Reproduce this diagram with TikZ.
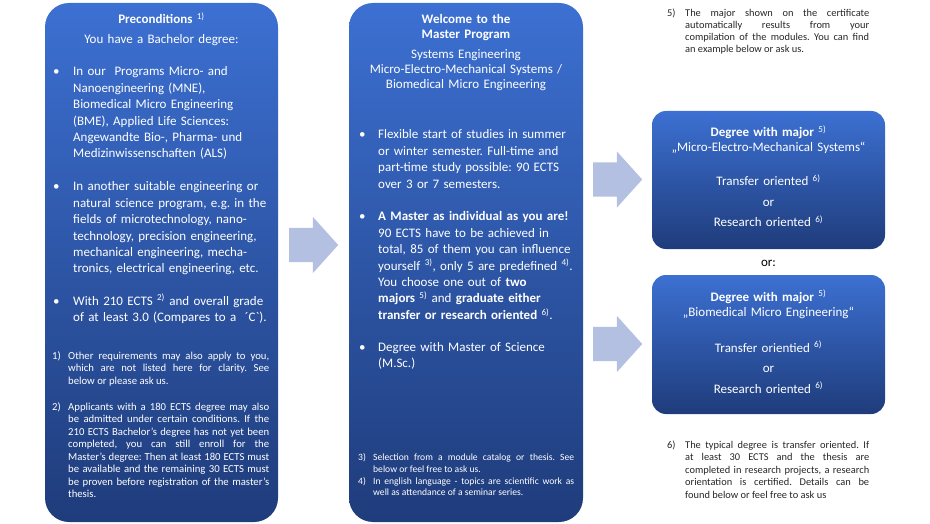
\documentclass[tikz,border=0pt]{standalone}
\usepackage{fontspec}
\setmainfont{Carlito}
\usetikzlibrary{shapes.arrows}

\definecolor{boxtop}{HTML}{3C70D2}
\definecolor{boxbottom}{HTML}{1F3C7B}
\definecolor{arrowfill}{HTML}{B3C0E2}
\definecolor{notegray}{HTML}{262626}

\newcommand{\supnote}[1]{\textsuperscript{#1)}}
\hbadness=10000
\frenchspacing

\tikzset{
  panel/.style={rectangle, rounded corners=#1, top color=boxtop, bottom color=boxbottom,
    draw=none, inner sep=0pt},
  panel/.default=24pt,
  bigarrow/.style={single arrow, anchor=tail, fill=arrowfill, draw=none, inner xsep=0pt,
    inner ysep=17pt, minimum height=49pt, single arrow head extend=11pt,
    single arrow tip angle=96},
  headtext/.style={anchor=base, text=white, inner sep=0pt, align=center, text width=226pt,
    font=\fontsize{13}{15}\selectfont},
  bullet/.style={anchor=base west, text=white, inner sep=0pt, font=\fontsize{13}{16.4}\selectfont},
  bodytext/.style={anchor=base west, text=white, inner sep=0pt, align=left, text width=#1,
    font=\fontsize{13}{16.4}\selectfont},
  fnnum/.style={anchor=base west, inner sep=0pt},
  fntext/.style={anchor=base west, inner sep=0pt, align=justify, text width=#1}
}

\begin{document}
\begin{tikzpicture}[x=1pt,y=-1pt]
\useasboundingbox (0,0) rectangle (930,524);

% Panels
\node[panel, minimum width=233pt, minimum height=519pt] (pre) at (161.5,262.5) {};
\node[panel, minimum width=234pt, minimum height=519pt] (master) at (466,262.5) {};
\node[panel=14pt, minimum width=233pt, minimum height=138pt] (mems) at (768.5,180) {};
\node[panel=14pt, minimum width=233pt, minimum height=139pt] (bme) at (768.5,344.5) {};

% Block arrows (placed by their tails)
\node[bigarrow] (arr1) at (289,245) {};
\node[bigarrow] (arr2) at (593,179.5) {};
\node[bigarrow] (arr3) at (593,344) {};

% ---- Preconditions ----
\node[headtext] (preh) at (161.5,24) {\textbf{Preconditions} \supnote{1}};
\node[headtext] (presub) at (161.5,44) {You have a Bachelor degree:};

\node[bullet] (pb1) at (53,76) {•};
\node[bodytext=200pt] (pt1) at (73,76) {In our~ Programs Micro- and\\
  Nanoengineering (MNE),\\ Biomedical Micro Engineering\\
  (BME), Applied Life Sciences:\\ Angewandte Bio-, Pharma- und\\
  Medizinwissenschaften (ALS)};

\node[bullet] (pb2) at (53,191) {•};
\node[bodytext=200pt] (pt2) at (73,191) {In another suitable engineering or\\
  natural science program, e.g. in the\\ fields of microtechnology, nano-\\
  technology, precision engineering,\\ mechanical engineering, mecha-\\
  tronics, electrical engineering, etc.};

\node[bullet] (pb3) at (53,305) {•};
\node[bodytext=200pt] (pt3) at (73,305) {With 210 ECTS \supnote{2} and overall grade\\
  of at least 3.0 (Compares to a~ ´C{\addfontfeatures{Ligatures=TeXOff}`}).};

% footnotes 1) and 2)
\begin{scope}[text=white, font=\fontsize{10.7}{12.5}\selectfont]
\node[fnnum] (pn1) at (52,359) {1)};
\node[fntext=201pt] (pf1) at (68,359) {Other requirements may also apply to you,\linebreak
  which are not listed here for clarity. See\linebreak below or please ask us.};
\node[fnnum] (pn2) at (52,410) {2)};
\node[fntext=201pt] (pf2) at (68,410) {Applicants with a 180 ECTS degree may also\linebreak
  be admitted under certain conditions. If the\linebreak
  210 ECTS Bachelor's degree has not yet been\linebreak
  completed, you can still enroll for the\linebreak
  Master's degree: Then at least 180 ECTS must\linebreak
  be available and the remaining 30 ECTS must\linebreak
  be proven before registration of the master's\linebreak thesis.};
\end{scope}

% ---- Master program ----
\node[headtext] (mh) at (466,24) {\textbf{Welcome to the}\\ \textbf{Master Program}};
\node[headtext] (msub) at (466,59) {Systems Engineering\\
  Micro-Electro-Mechanical Systems /\\ Biomedical Micro Engineering};

\node[bullet] (mb1) at (359,139) {•};
\node[bodytext=200pt] (mt1) at (378,139) {Flexible start of studies in summer\\
  or winter semester. Full-time and\\ part-time study possible: 90 ECTS\\
  over 3 or 7 semesters.};

\node[bullet] (mb2) at (359,221) {•};
\node[bodytext=200pt] (mt2) at (378,221) {\textbf{A Master as individual as you are!}\\
  90 ECTS have to be achieved in\\ total, 85 of them you can influence\\
  yourself \supnote{3}, only 5 are predefined \supnote{4}.\\
  You choose one out of \textbf{two}\\
  \textbf{majors} \supnote{5} and \textbf{graduate either}\\
  \textbf{transfer or research oriented} \supnote{6}.};

\node[bullet] (mb3) at (359,351) {•};
\node[bodytext=200pt] (mt3) at (378,351) {Degree with Master of Science\\ (M.Sc.)};

% footnotes 3) and 4)
\begin{scope}[text=white, font=\fontsize{9.6}{11.7}\selectfont]
\node[fnnum] (mn3) at (358,460.5) {3)};
\node[fntext=201pt] (mf3) at (373,460.5) {Selection from a module catalog or thesis. See\linebreak
  below or feel free to ask us.};
\node[fnnum] (mn4) at (358,484) {4)};
\node[fntext=201pt] (mf4) at (373,484) {In english language - topics are scientific work as\linebreak
  well as attendance of a seminar series.};
\end{scope}

% ---- Degrees ----
\node[headtext] (memsh) at (768.5,137) {\textbf{Degree with major} \supnote{5}\\
  „Micro-Electro-Mechanical Systems“};
\node[headtext, font=\fontsize{13}{20.5}\selectfont] (memst) at (768.5,186)
  {Transfer oriented \supnote{6}\\ or\\ Research oriented \supnote{6}};
\node[anchor=base, inner sep=0pt, font=\fontsize{13}{15}\selectfont] (alt) at (768.5,266) {or:};
\node[headtext] (bmeh) at (768.5,301) {\textbf{Degree with major} \supnote{5}\\
  „Biomedical Micro Engineering“};
\node[headtext, font=\fontsize{13}{20.5}\selectfont] (bmet) at (768.5,352)
  {Transfer orientied \supnote{6}\\ or\\ Research oriented \supnote{6}};

% footnotes 5) and 6)
\begin{scope}[text=notegray, font=\fontsize{10.4}{12}\selectfont]
\node[fnnum] (rn5) at (667,16.5) {5)};
\node[fntext=184pt] (rf5) at (685,16.5) {The major shown on the certificate\linebreak
  automatically results from your\linebreak
  compilation of the modules. You can find\linebreak an example below or ask us.};
\end{scope}
\begin{scope}[text=notegray, font=\fontsize{10.4}{12.5}\selectfont]
\node[fnnum] (rn6) at (667,448) {6)};
\node[fntext=184pt] (rf6) at (685,448) {The typical degree is transfer oriented. If\linebreak
  at least 30 ECTS and the thesis are\linebreak
  completed in research projects, a research\linebreak
  orientation is certified. Details can be\linebreak
  found below or feel free to ask us};
\end{scope}

\end{tikzpicture}
\end{document}
